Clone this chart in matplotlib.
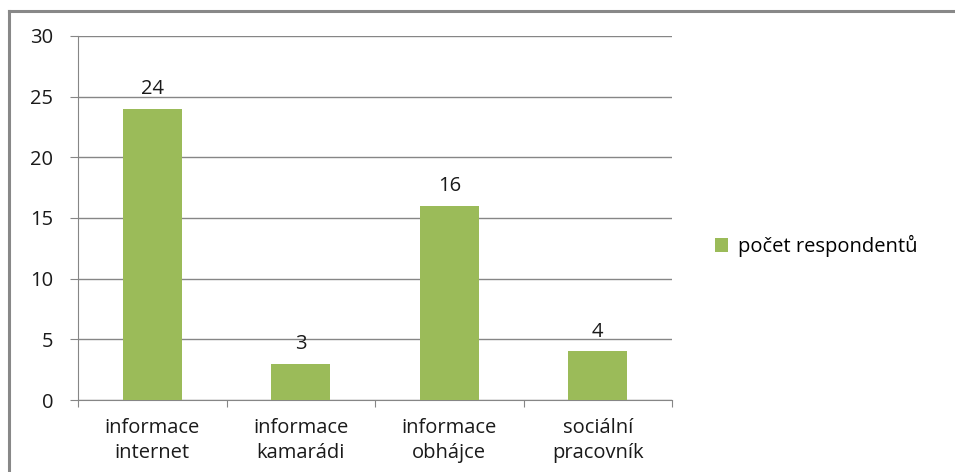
import matplotlib.pyplot as plt
from matplotlib.lines import Line2D
import numpy as np

plt.rcParams['font.family'] = ['Open Sans', 'DejaVu Sans']

# Data
categories = ['informace\ninternet', 'informace\nkamarádi', 'informace\nobhájce', 'sociální\npracovník']
values = [24, 3, 16, 4]
series_name = 'počet respondentů'

W, H = 955, 472
fs = 14.5
fig = plt.figure(figsize=(W / 100, H / 100), dpi=100)

# outer chart border (left and top visible)
fig.add_artist(Line2D([9 / W, 9 / W], [0, 1 - 11 / H], color='#888888', lw=2.2))
fig.add_artist(Line2D([9 / W, 1], [1 - 11 / H, 1 - 11 / H], color='#888888', lw=2.2))

left, right, top, bottom = 78, 672, 36, 400
ax = fig.add_axes([left / W, 1 - bottom / H, (right - left) / W, (bottom - top) / H])

x = np.arange(len(categories))
bars = ax.bar(x, values, width=0.4, color='#9BBB59', label=series_name, zorder=3)

ax.set_xlim(-0.5, len(categories) - 0.5)
ax.set_ylim(0, 30)
ax.set_yticks(range(0, 31, 5))
ax.grid(axis='y', color='#868686', lw=1, zorder=0)

for spine in ['top', 'right']:
    ax.spines[spine].set_visible(False)
ax.spines['left'].set_color('#868686')
ax.spines['bottom'].set_color('#868686')

# category ticks sit between categories
ax.set_xticks(np.arange(-0.5, len(categories), 1))
ax.set_xticklabels([])
ax.set_xticks(x, minor=True)
ax.set_xticklabels(categories, minor=True, fontsize=fs, color='#1a1a1a', linespacing=1.3)
ax.tick_params(axis='x', which='major', length=5, color='#868686')
ax.tick_params(axis='x', which='minor', length=0, pad=13)
ax.tick_params(axis='y', length=6, color='#868686', labelsize=fs, labelcolor='#1a1a1a', pad=12)

for xi, v in zip(x, values):
    ax.text(xi, v + 0.8, str(v), ha='center', va='bottom', fontsize=fs, color='#1a1a1a')

leg = fig.legend(handles=[bars], labels=[series_name], loc='center left',
                 bbox_to_anchor=(697 / W, 1 - 246 / H), frameon=False,
                 fontsize=fs, handlelength=0.65, handleheight=0.65, handletextpad=0.5)

fig.savefig('out.png', dpi=100, facecolor='white')
